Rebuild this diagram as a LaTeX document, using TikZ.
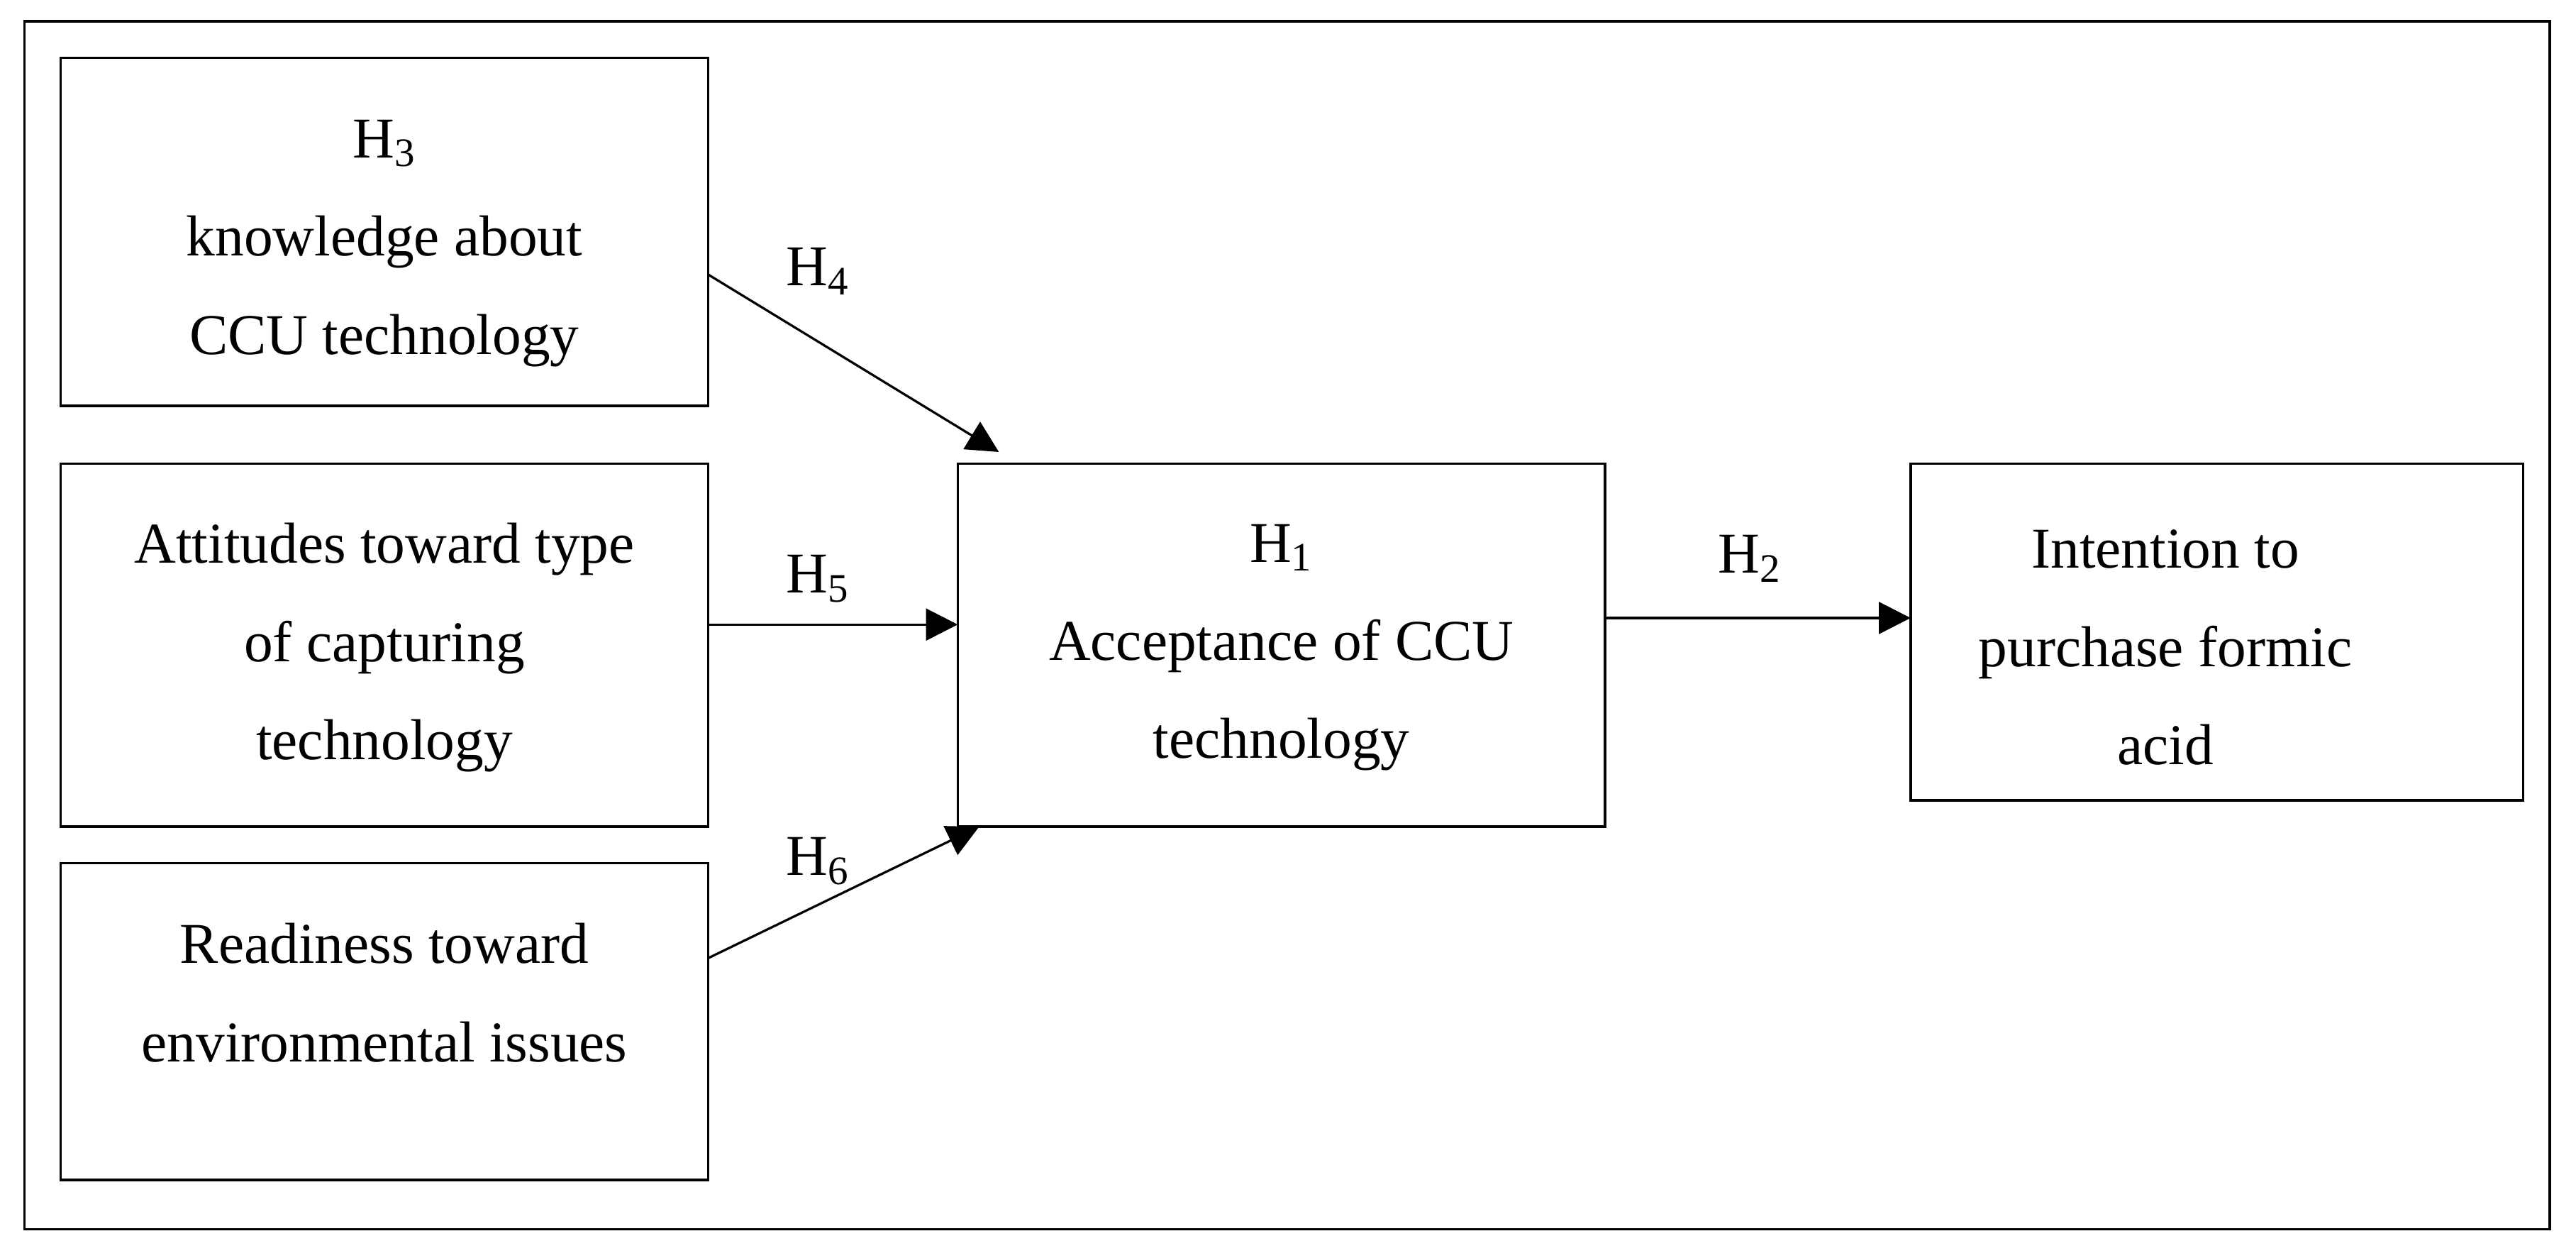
\documentclass[tikz,border=0pt]{standalone}
\usepackage{fontspec}
\setmainfont{Liberation Serif}
\usetikzlibrary{arrows.meta}
\begin{document}
\begin{tikzpicture}[x=0.02cm,y=-0.02cm,
  box/.style={draw,line width=0.8pt,inner sep=0pt},
  txt/.style={align=center,font=\fontsize{20}{34}\selectfont},
  lab/.style={font=\fontsize{20}{24}\selectfont},
  arr/.style={line width=0.8pt,-{Triangle[length=11pt,width=11pt]}}]
\useasboundingbox (0,0) rectangle (1568,765);
\draw[line width=0.8pt] (15,13) rectangle (1552,748);
\node[box,minimum width=7.88cm,minimum height=4.24cm] (k) at (234,141) {};
\node[box,minimum width=7.88cm,minimum height=4.42cm] (a) at (234,392.5) {};
\node[box,minimum width=7.88cm,minimum height=3.86cm] (r) at (234,621.5) {};
\node[box,minimum width=7.88cm,minimum height=4.42cm] (h) at (780,392.5) {};
\node[box,minimum width=7.46cm,minimum height=4.1cm] (i) at (1349.5,384.5) {};
\node[txt] (kt) at (234,148) {H\textsubscript{3}\\knowledge about\\CCU technology};
\node[txt] (at) at (234,394) {Attitudes toward type\\of capturing\\technology};
\node[txt] (rt) at (234,604) {Readiness toward\\environmental issues};
\node[txt] (ht) at (780,394) {H\textsubscript{1}\\Acceptance of CCU\\technology};
\node[txt] (it) at (1318,394) {Intention to\\purchase formic\\acid};
\coordinate (k1) at (431,167); \coordinate (k2) at (608,275);
\coordinate (a1) at (431,380); \coordinate (a2) at (583,380);
\coordinate (r1) at (431,583); \coordinate (r2) at (596,503);
\coordinate (h1) at (977,376); \coordinate (h2) at (1163,376);
\draw[arr] (k1) -- (k2);
\draw[arr] (a1) -- (a2);
\draw[arr] (r1) -- (r2);
\draw[arr] (h1) -- (h2);
\node[lab] (l4) at (498,165) {H\textsubscript{4}};
\node[lab] (l5) at (498,352) {H\textsubscript{5}};
\node[lab] (l6) at (498,524) {H\textsubscript{6}};
\node[lab] (l2) at (1065,340) {H\textsubscript{2}};
\end{tikzpicture}
\end{document}
